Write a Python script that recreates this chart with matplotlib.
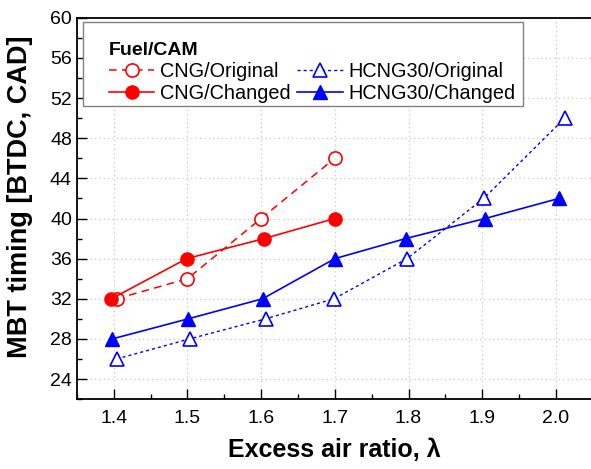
import matplotlib
matplotlib.use('Agg')
import matplotlib.pyplot as plt
from matplotlib.ticker import MultipleLocator
from matplotlib.patches import Rectangle

plt.rcParams['font.family'] = ['Liberation Sans', 'DejaVu Sans']

# excess air ratio (small offsets)
lam_cng_orig = [1.404, 1.500, 1.600, 1.700]
cng_orig = [32, 34, 40, 46]
lam_cng_chg = [1.397, 1.499, 1.604, 1.700]
cng_chg = [32, 36, 38, 40]

lam_h_orig = [1.404, 1.503, 1.606, 1.699, 1.798, 1.902, 2.012]
h_orig = [26, 28, 30, 32, 36, 42, 50]
lam_h_chg = [1.398, 1.501, 1.602, 1.700, 1.796, 1.904, 2.004]
h_chg = [28, 30, 32, 36, 38, 40, 42]

fig = plt.figure(figsize=(5.91, 4.69), dpi=100)
ax = fig.add_axes([0.130, 0.149, 0.873, 0.813])

red = '#ff0000'
blue = '#0000ff'
ms = 9.5

l1, = ax.plot(lam_cng_orig, cng_orig, color=red, ls=(0, (5, 3.5)), lw=1.1,
              marker='o', ms=ms, mfc='white', mec=red, mew=1.2, label='CNG/Original')
l2, = ax.plot(lam_cng_chg, cng_chg, color=red, ls='-', lw=1.2,
              marker='o', ms=ms, mfc=red, mec=red, label='CNG/Changed')
l3, = ax.plot(lam_h_orig, h_orig, color=blue, ls=(0, (2.2, 2.2)), lw=1.0,
              marker='^', ms=ms + 1, mfc='white', mec=blue, mew=1.2, label='HCNG30/Original')
l4, = ax.plot(lam_h_chg, h_chg, color=blue, ls='-', lw=1.2,
              marker='^', ms=ms + 1, mfc=blue, mec=blue, label='HCNG30/Changed')

ax.set_xlim(1.35, 2.05)
ax.set_ylim(22, 60)
ax.xaxis.set_minor_locator(MultipleLocator(0.05))
ax.yaxis.set_minor_locator(MultipleLocator(2))
ax.set_xticks([1.4, 1.5, 1.6, 1.7, 1.8, 1.9, 2.0])
ax.set_xticklabels(['1.4', '1.5', '1.6', '1.7', '1.8', '1.9', '2.0'])
ax.set_yticks(range(24, 61, 4))

ax.tick_params(which='major', direction='in', length=7, width=1.0, labelsize=14)
ax.tick_params(which='minor', direction='in', length=3.5, width=1.0)
ax.tick_params(axis='x', pad=8)
ax.grid(True, which='major', ls=(0, (1, 2.5)), color='#c8c8c8', lw=0.9)
for s in ax.spines.values():
    s.set_linewidth(1.3)

ax.set_xlabel('Excess air ratio, λ', fontsize=18, fontweight='bold', labelpad=8)
ax.set_ylabel('MBT timing [BTDC, CAD]', fontsize=19.5, fontweight='bold')
ax.yaxis.set_label_coords(-0.084, 0.53)

# legend frame drawn separately (the original has a wide inner margin)
ax.add_patch(Rectangle((0.011, 0.770), 0.853, 0.218, transform=ax.transAxes,
                       facecolor='white', edgecolor='#808080', lw=1.0, zorder=4))
leg = ax.legend(handles=[l1, l2, l3, l4], ncol=2, loc='upper left',
                bbox_to_anchor=(0.062, 0.937), borderaxespad=0, borderpad=0,
                title='Fuel/CAM', title_fontproperties={'weight': 'bold', 'size': 14},
                alignment='left', fontsize=14.3, handlelength=2.3, handletextpad=0.3,
                columnspacing=0.3, labelspacing=0.15, frameon=False)
leg.set_zorder(5)

fig.savefig('out.png', dpi=100)
